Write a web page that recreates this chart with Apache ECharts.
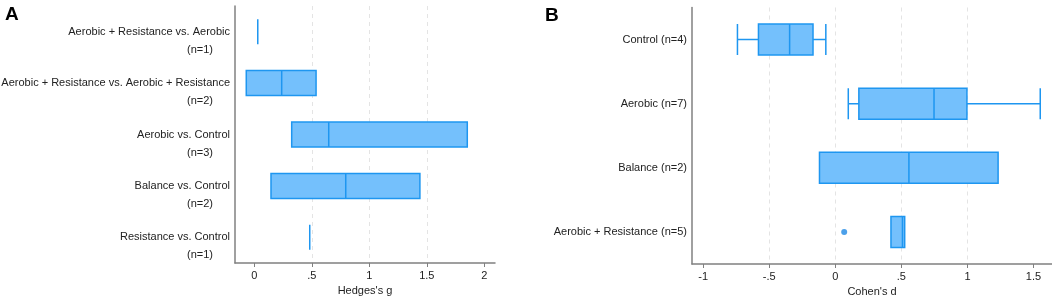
<!DOCTYPE html>
<html>
<head>
<meta charset="utf-8">
<script src="https://cdn.jsdelivr.net/npm/echarts@6/dist/echarts.min.js"></script>
<style>
	html, body { margin: 0; padding: 0; background: #fff; }
	#chart { width: 1052px; height: 297px; }
</style>
</head>
<body>
<div id="chart"></div>
<script>
// panel A: Hedges's g by comparison
var leftCats = [
	'Aerobic + Resistance vs. Aerobic|(n=1)',
	'Aerobic + Resistance vs. Aerobic + Resistance|(n=2)',
	'Aerobic vs. Control|(n=3)',
	'Balance vs. Control|(n=2)',
	'Resistance vs. Control|(n=1)'
];
// [min, q1, median, q3, max]
var leftStats = [
	[0.03, 0.03, 0.03, 0.03, 0.03],
	[-0.07, -0.07, 0.238, 0.537, 0.537],
	[0.325, 0.325, 0.647, 1.852, 1.852],
	[0.145, 0.145, 0.795, 1.44, 1.44],
	[0.482, 0.482, 0.482, 0.482, 0.482]
];
var leftTicks = [0, 0.5, 1, 1.5, 2];

// panel B: Cohen's d by intervention
var rightCats = ['Control (n=4)', 'Aerobic (n=7)', 'Balance (n=2)', 'Aerobic + Resistance (n=5)'];
var rightStats = [
	[-0.741, -0.582, -0.346, -0.169, -0.072],
	[0.098, 0.178, 0.747, 0.996, 1.551],
	[-0.12, -0.12, 0.557, 1.232, 1.232],
	[0.421, 0.421, 0.508, 0.525, 0.525]
];
var rightOutliers = [[0.067, 'Aerobic + Resistance (n=5)']];
var rightTicks = [-1, -0.5, 0, 0.5, 1, 1.5];

var font = 'Liberation Sans, Arial, sans-serif';
var txt = '#222';
var axisGray = '#808080';

function tickFmt(v){
	return String(v).replace('0.', '.');
}

function xAxis(gridIndex, min, max, ticks, name){
	return {
		type: 'value',
		gridIndex: gridIndex,
		min: min,
		max: max,
		splitNumber: 5,
		name: name,
		nameLocation: 'middle',
		nameGap: 22,
		nameTextStyle: {fontFamily: font, fontSize: 11, color: txt},
		axisLine: {show: true, onZero: false, lineStyle: {color: axisGray, width: 1.5}},
		axisTick: {show: true, length: 4, lineStyle: {color: axisGray}, customValues: ticks},
		axisLabel: {fontFamily: font, fontSize: 11, color: txt, margin: 7, customValues: ticks, formatter: tickFmt},
		splitLine: {show: true, showMinLine: false, showMaxLine: false, lineStyle: {color: '#e4e4e4', type: [4, 4], width: 1}}
	};
}

function boxSeries(xi, yi, data, w){
	return {
		type: 'boxplot',
		xAxisIndex: xi,
		yAxisIndex: yi,
		data: data,
		boxWidth: [w, w],
		itemStyle: {color: '#74C0FC', borderColor: '#1E96F0', borderWidth: 1.5},
		emphasis: {disabled: true},
		tooltip: {show: false}
	};
}

var chart = echarts.init(document.getElementById('chart'));
chart.setOption({
	animation: false,
	backgroundColor: '#fff',
	title: [
		{text: 'A', left: 0, top: 0, textStyle: {fontFamily: font, fontSize: 19, fontWeight: 'bold', color: '#000'}},
		{text: 'B', left: 540, top: 1, textStyle: {fontFamily: font, fontSize: 19, fontWeight: 'bold', color: '#000'}}
	],
	grid: [
		{left: 235, right: 557, top: 6, bottom: 34, outerBoundsMode: 'none', containLabel: false},
		{left: 692, right: 0, top: 7.5, bottom: 33, outerBoundsMode: 'none', containLabel: false}
	],
	xAxis: [
		xAxis(0, -0.168, 2.093, leftTicks, "Hedges's g"),
		xAxis(1, -1.085, 1.64, rightTicks, "Cohen's d")
	],
	yAxis: [
		{
			type: 'category',
			gridIndex: 0,
			data: leftCats,
			inverse: true,
			axisLine: {show: true, onZero: false, lineStyle: {color: axisGray, width: 1.5}},
			axisTick: {show: false},
			splitLine: {show: false},
			axisLabel: {
				interval: 0,
				hideOverlap: false,
				margin: 5,
				fontFamily: font,
				fontSize: 11,
				color: txt,
				lineHeight: 18,
				formatter: function(v){
					var p = v.split('|');
					return '{s| }\n{a|' + p[0] + '}\n{b|' + p[1] + '}';
				},
				rich: {
					s: {lineHeight: 18, fontSize: 11, fontFamily: font},
					a: {lineHeight: 18, fontSize: 11, fontFamily: font, color: txt},
					b: {lineHeight: 18, fontSize: 11, fontFamily: font, color: txt, padding: [0, 17, 0, 0]}
				}
			}
		},
		{
			type: 'category',
			gridIndex: 1,
			data: rightCats,
			inverse: true,
			axisLine: {show: true, onZero: false, lineStyle: {color: axisGray, width: 1.5}},
			axisTick: {show: false},
			splitLine: {show: false},
			axisLabel: {interval: 0, margin: 5, fontFamily: font, fontSize: 11, color: txt}
		}
	],
	series: [
		boxSeries(0, 0, leftStats, 25),
		boxSeries(1, 1, rightStats, 31),
		{
			type: 'scatter',
			xAxisIndex: 1,
			yAxisIndex: 1,
			data: rightOutliers,
			symbol: 'circle',
			symbolSize: 6,
			itemStyle: {color: '#1E88E5'},
			emphasis: {disabled: true}
		}
	]
});
</script>
</body>
</html>
